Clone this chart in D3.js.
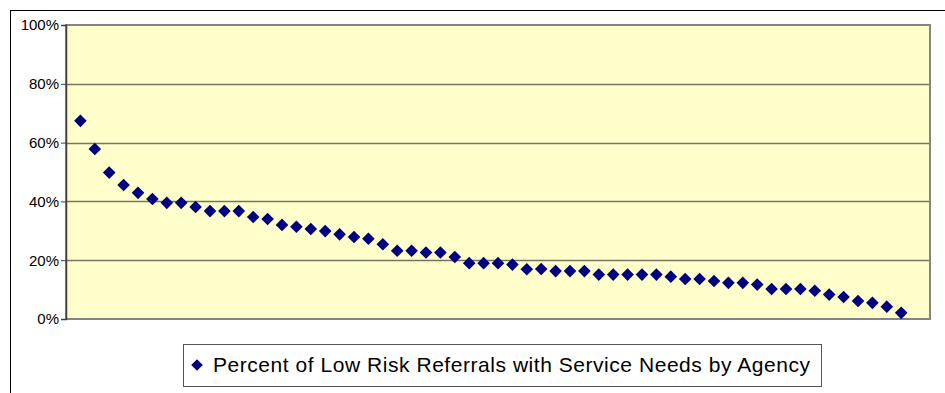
<!DOCTYPE html>
<html>
<head>
<meta charset="utf-8">
<script src="https://cdn.jsdelivr.net/npm/d3@7"></script>
<style>
  html, body { margin: 0; padding: 0; background: #fff; }
  svg { display: block; font-family: "Liberation Sans", Arial, sans-serif; }
</style>
</head>
<body>
<svg id="chart" width="945" height="393"></svg>
<script>
// Data (agency index -> percent)
const agencies = d3.range(1, 59);
const percentValues = [
  67.4, 57.8, 49.8, 45.6, 42.9, 40.8, 39.5, 39.5, 38.1, 36.7,
  36.7, 36.7, 34.7, 34.0, 32.0, 31.4, 30.6, 29.9, 28.8, 27.9,
  27.3, 25.4, 23.2, 23.2, 22.6, 22.6, 21.1, 19.0, 19.0, 19.0,
  18.5, 16.9, 17.0, 16.3, 16.3, 16.3, 15.1, 15.1, 15.1, 15.1,
  15.1, 14.4, 13.6, 13.6, 12.9, 12.3, 12.3, 11.7, 10.2, 10.2,
  10.2, 9.6, 8.3, 7.5, 6.1, 5.5, 4.2, 2.1
];
const yTicks = [0, 20, 40, 60, 80, 100];
const seriesName = "Percent of Low Risk Referrals with Service Needs by Agency";

const svg = d3.select("#chart");
const plot = { left: 66, right: 930, top: 25, bottom: 319 };

const x = d3.scaleLinear().domain([0, 60]).range([plot.left, plot.right]);
const y = d3.scaleLinear().domain([0, 100]).range([plot.bottom, plot.top]);

// Outer chart border (cropped on right/bottom)
svg.append("rect")
  .attr("x", 10.5).attr("y", 10.5)
  .attr("width", 960).attr("height", 420)
  .attr("fill", "#fff").attr("stroke", "#000").attr("stroke-width", 1);

// Plot background
svg.append("rect")
  .attr("x", plot.left).attr("y", plot.top)
  .attr("width", plot.right - plot.left).attr("height", plot.bottom - plot.top)
  .attr("fill", "#FFFFCC");

// Gridlines
svg.append("g")
  .selectAll("line")
  .data(yTicks.filter(d => d > 0 && d < 100))
  .join("line")
  .attr("x1", plot.left).attr("x2", plot.right)
  .attr("y1", d => Math.round(y(d)) + 0.5).attr("y2", d => Math.round(y(d)) + 0.5)
  .attr("stroke", "#75755f").attr("stroke-width", 1.4);

// Plot border
svg.append("rect")
  .attr("x", plot.left).attr("y", plot.top)
  .attr("width", plot.right - plot.left).attr("height", plot.bottom - plot.top)
  .attr("fill", "none").attr("stroke", "#858585").attr("stroke-width", 2);

// Y axis
const yAxis = d3.axisLeft(y)
  .tickValues(yTicks)
  .tickFormat(d => d + "%")
  .tickSize(5)
  .tickPadding(2);
const gy = svg.append("g")
  .attr("transform", `translate(${plot.left},0)`)
  .call(yAxis);
gy.select(".domain").attr("stroke", "#404040").attr("stroke-width", 1.5);
gy.selectAll(".tick line").attr("stroke", "#404040");
gy.selectAll(".tick text")
  .attr("font-size", 15)
  .attr("font-family", "'Liberation Sans', Arial, sans-serif")
  .attr("fill", "#000");

// Diamond markers
const diamond = (cx, cy, r) => `M${cx},${cy - r}L${cx + r},${cy}L${cx},${cy + r}L${cx - r},${cy}Z`;
svg.append("g")
  .selectAll("path")
  .data(percentValues)
  .join("path")
  .attr("d", (d, i) => diamond(x(agencies[i]), y(d), 6.3))
  .attr("fill", "#000080");

// Legend
const lg = svg.append("g");
lg.append("rect")
  .attr("x", 183.5).attr("y", 344.5)
  .attr("width", 638).attr("height", 42)
  .attr("fill", "#fff").attr("stroke", "#555").attr("stroke-width", 1);
lg.append("path")
  .attr("d", diamond(197, 365, 5.8))
  .attr("fill", "#000080");
lg.append("text")
  .attr("x", 213).attr("y", 372)
  .attr("font-size", 21)
  .attr("textLength", 597)
  .attr("lengthAdjust", "spacing")
  .attr("fill", "#000")
  .text(seriesName);
</script>
</body>
</html>
